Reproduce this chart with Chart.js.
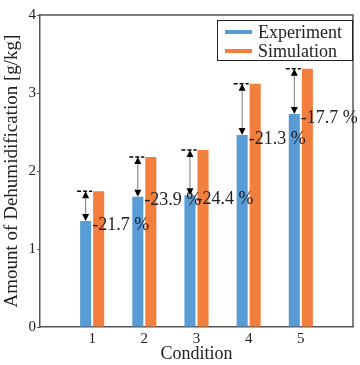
<!DOCTYPE html>
<html>
<head>
<meta charset="utf-8">
<script src="https://cdn.jsdelivr.net/npm/chart.js@4"></script>
<style>
  html, body { margin: 0; padding: 0; background: #fff; }
  #wrap { width: 360px; height: 365px; }
</style>
</head>
<body>
<div id="wrap"><canvas id="chart" width="360" height="365"></canvas></div>
<script>
// conditions on the x axis
var conditions = ['1', '2', '3', '4', '5'];
// dehumidification amount [g/kg]
var experiment = [1.36, 1.67, 1.69, 2.46, 2.73];
var simulation = [1.74, 2.18, 2.27, 3.12, 3.31];
// relative difference labels
var diffLabels = ['-21.7 %', '-23.9 %', '-24.4 %', '-21.3 %', '-17.7 %'];
var yTicks = [0, 1, 2, 3, 4];

var SERIF = '"Liberation Serif", "DejaVu Serif", serif';
var AXIS_COLOR = '#555555';

// empty slot on each side so the conditions sit at 1..5 of a 0..6 axis
var labels = ['0'].concat(conditions, ['6']);
var pad = function (arr) { return [null].concat(arr, [null]); };

// frame, arrows, percentages and legend drawn on top of the bars
var overlay = {
  id: 'overlay',
  afterDatasetsDraw: function (chart) {
    var ctx = chart.ctx;
    var area = chart.chartArea;
    var yScale = chart.scales.y;
    var expMeta = chart.getDatasetMeta(0);

    ctx.save();
    // top and right border of the box
    ctx.strokeStyle = AXIS_COLOR;
    ctx.lineWidth = 1.5;
    ctx.beginPath();
    ctx.moveTo(area.left, area.top);
    ctx.lineTo(area.right, area.top);
    ctx.lineTo(area.right, area.bottom);
    ctx.stroke();

    for (var i = 0; i < conditions.length; i++) {
      var bar = expMeta.data[i + 1];
      var x = bar.x;
      var half = bar.width / 2;
      var yExp = yScale.getPixelForValue(experiment[i]);
      var ySim = yScale.getPixelForValue(simulation[i]);

      // dashed reference at the simulation value
      ctx.setLineDash([4, 2]);
      ctx.strokeStyle = '#000';
      ctx.lineWidth = 1.5;
      ctx.beginPath();
      ctx.moveTo(x - half - 3, ySim);
      ctx.lineTo(x + half + 1, ySim);
      ctx.stroke();
      ctx.setLineDash([]);

      // double arrow between experiment and simulation
      var head = 7;
      ctx.strokeStyle = '#777';
      ctx.lineWidth = 1;
      ctx.beginPath();
      ctx.moveTo(x, ySim + head);
      ctx.lineTo(x, yExp - head);
      ctx.stroke();
      ctx.fillStyle = '#000';
      ctx.beginPath();
      ctx.moveTo(x, ySim);
      ctx.lineTo(x - 3.5, ySim + head);
      ctx.lineTo(x + 3.5, ySim + head);
      ctx.closePath();
      ctx.fill();
      ctx.beginPath();
      ctx.moveTo(x, yExp);
      ctx.lineTo(x - 3.5, yExp - head);
      ctx.lineTo(x + 3.5, yExp - head);
      ctx.closePath();
      ctx.fill();

      // percentage label next to the experiment bar top
      ctx.font = '18px ' + SERIF;
      ctx.fillStyle = '#222';
      ctx.textAlign = 'left';
      ctx.textBaseline = 'middle';
      ctx.fillText(diffLabels[i], x + half + 1, yExp + 4);
    }

    // legend box in the upper right corner
    var boxL = area.right - 136, boxT = area.top + 5, boxW = 136, boxH = 41;
    ctx.fillStyle = '#fff';
    ctx.fillRect(boxL, boxT, boxW, boxH);
    ctx.strokeStyle = '#222';
    ctx.lineWidth = 1;
    ctx.strokeRect(boxL + 0.5, boxT + 0.5, boxW - 1, boxH - 1);
    chart.data.datasets.forEach(function (ds, k) {
      var cy = boxT + 12 + k * 19;
      ctx.fillStyle = ds.backgroundColor;
      ctx.fillRect(boxL + 8, cy - 2, 27, 4);
      ctx.fillStyle = '#222';
      ctx.font = '18px ' + SERIF;
      ctx.textAlign = 'left';
      ctx.textBaseline = 'middle';
      ctx.fillText(ds.label, boxL + 41, cy + 1);
    });
    ctx.restore();
  }
};

new Chart(document.getElementById('chart'), {
  type: 'bar',
  data: {
    labels: labels,
    datasets: [
      { label: 'Experiment', data: pad(experiment), backgroundColor: '#589bd5' },
      { label: 'Simulation', data: pad(simulation), backgroundColor: '#f27f3e' }
    ]
  },
  options: {
    responsive: false,
    animation: false,
    devicePixelRatio: 1,
    categoryPercentage: 0.5,
    barPercentage: 0.85,
    layout: { padding: { top: 15, right: 7, left: 0, bottom: 0 } },
    plugins: {
      legend: { display: false },
      tooltip: { enabled: false }
    },
    scales: {
      x: {
        offset: false,
        grid: { display: false, drawTicks: false },
        border: { color: AXIS_COLOR, width: 1.5 },
        ticks: {
          color: '#222',
          font: { family: SERIF, size: 15 },
          maxRotation: 0,
          autoSkip: false,
          padding: 3,
          callback: function (v, i) { return (i === 0 || i === labels.length - 1) ? '' : labels[i]; }
        },
        title: {
          display: true,
          text: 'Condition',
          color: '#222',
          font: { family: SERIF, size: 18 },
          padding: { top: 0, bottom: 0 }
        },
        afterFit: function (s) { s.height = 38; }
      },
      y: {
        min: 0,
        max: 4,
        afterBuildTicks: function (s) { s.ticks = yTicks.map(function (v) { return { value: v }; }); },
        grid: { drawOnChartArea: false, tickLength: 3, color: AXIS_COLOR },
        border: { color: AXIS_COLOR, width: 1.5 },
        ticks: {
          color: '#222',
          font: { family: SERIF, size: 15 },
          padding: 1
        },
        title: {
          display: true,
          text: 'Amount of Dehumidification [g/kg]',
          color: '#222',
          font: { family: SERIF, size: 19 },
          padding: { top: 1, bottom: 0 }
        },
        afterFit: function (s) { s.width = 40; }
      }
    }
  },
  plugins: [overlay]
});
</script>
</body>
</html>
